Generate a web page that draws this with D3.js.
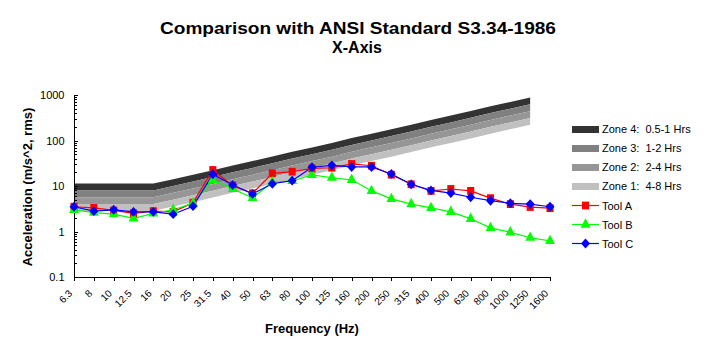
<!DOCTYPE html>
<html>
<head>
<meta charset="utf-8">
<script src="https://cdn.jsdelivr.net/npm/d3@7"></script>
<style>
  html, body { margin: 0; padding: 0; background: #fff; }
  svg { display: block; font-family: "Liberation Sans", Arial, sans-serif; }
  svg text { white-space: pre; }
</style>
</head>
<body>
<svg id="chart" width="704" height="358"></svg>
<script>
// ---------- data ----------
const categories = ["6.3","8","10","12.5","16","20","25","31.5","40","50","63","80","100","125","160","200","250","315","400","500","630","800","1000","1250","1600"];
const zoneCategories = categories.slice(0, 24); // zones drawn 6.3 .. 1250 Hz

// zone boundaries (m/s^2 rms)
const zoneBase  = [2.83,2.83,2.83,2.83,2.83,3.54,4.42,5.57,7.07,8.84,11.1,14.1,17.7,22.1,28.3,35.4,44.2,55.7,70.7,88.4,111,141,177,221];
const zone1Top  = [4,4,4,4,4,5,6.25,7.88,10,12.5,15.8,20,25,31.3,40,50,62.5,78.8,100,125,158,200,250,313];
const zone2Top  = [5.66,5.66,5.66,5.66,5.66,7.07,8.84,11.1,14.1,17.7,22.3,28.3,35.4,44.2,56.6,70.7,88.4,111,141,177,223,283,354,442];
const zone3Top  = [8,8,8,8,8,10,12.5,15.8,20,25,31.5,40,50,62.5,80,100,125,158,200,250,315,400,500,625];
const zone4Top  = [11.3,11.3,11.3,11.3,11.3,14.1,17.7,22.2,28.3,35.3,44.5,56.5,70.6,88.3,113,141,177,222,283,353,445,565,706,883];

const toolA = [3.5,3.3,2.9,2.5,2.8,2.7,4.3,22.5,10.2,6.9,19,20.6,24.3,25.2,30.5,27.9,17.7,10.9,7.8,8.6,7.8,5.4,4.0,3.45,3.25];
const toolB = [3.0,2.6,2.4,1.95,2.5,3.0,4.2,13.6,8.6,5.5,12.1,12.9,17.5,15.2,13.7,7.8,5.2,4.0,3.3,2.7,1.9,1.2,0.96,0.73,0.62];
const toolC = [3.5,2.8,3.0,2.7,2.7,2.4,3.6,18.1,10.5,6.7,11.2,13.1,25.8,28.5,26.2,26.2,18.4,10.9,8.0,7.0,5.65,4.75,4.17,4.0,3.5];

const yTickValues = [0.1, 1, 10, 100, 1000];
const yTickLabels = ["0.1", "1", "10", "100", "1000"];

const zoneNames  = ["Zone 4:  0.5-1 Hrs", "Zone 3:  1-2 Hrs", "Zone 2:  2-4 Hrs", "Zone 1:  4-8 Hrs"];
const zoneColors = ["#333333", "#808080", "#969696", "#C0C0C0"];
const toolNames  = ["Tool A", "Tool B", "Tool C"];
const toolColors = ["#FF0000", "#00FF00", "#0000FF"];

// ---------- layout ----------
const svg = d3.select("#chart");
const pLeft = 74, pRight = 550, pTop = 95, pBottom = 277;

const x = d3.scalePoint().domain(categories).range([pLeft, pRight]);
const y = d3.scaleLog().domain([0.1, 1000]).range([pBottom, pTop]);

// ---------- zones ----------
const bands = [
  {lo: zone3Top, hi: zone4Top, c: zoneColors[0]},
  {lo: zone2Top, hi: zone3Top, c: zoneColors[1]},
  {lo: zone1Top, hi: zone2Top, c: zoneColors[2]},
  {lo: zoneBase, hi: zone1Top, c: zoneColors[3]}
];
bands.forEach(b => {
  const area = d3.area()
    .x((d, i) => x(zoneCategories[i]))
    .y0((d, i) => y(b.lo[i]))
    .y1((d, i) => y(b.hi[i]));
  svg.append("path").attr("d", area(zoneCategories)).attr("fill", b.c).attr("stroke", "none");
});

// ---------- axes ----------
const axisG = svg.append("g");
axisG.append("line").attr("x1", pLeft + 0.5).attr("x2", pLeft + 0.5).attr("y1", pTop).attr("y2", pBottom).attr("stroke", "#000");
const minorVals = [];
for (let e = -1; e < 3; e++) for (let m = 2; m <= 9; m++) minorVals.push(m * Math.pow(10, e));
minorVals.forEach(v => {
  axisG.append("line").attr("x1", pLeft).attr("x2", pLeft + 3)
    .attr("y1", Math.round(y(v)) + 0.5).attr("y2", Math.round(y(v)) + 0.5).attr("stroke", "#000");
});
yTickValues.forEach((v, i) => {
  axisG.append("line").attr("x1", pLeft).attr("x2", pLeft + 4)
    .attr("y1", Math.round(y(v)) + 0.5).attr("y2", Math.round(y(v)) + 0.5).attr("stroke", "#000");
  axisG.append("text").attr("x", 64.5).attr("y", y(v) + 4)
    .attr("text-anchor", "end").attr("font-size", 11).text(yTickLabels[i]);
});
axisG.append("line").attr("x1", pLeft).attr("x2", pRight + 1).attr("y1", pBottom + 0.5).attr("y2", pBottom + 0.5).attr("stroke", "#000");
categories.forEach(c => {
  const xx = Math.round(x(c)) + 0.5;
  axisG.append("line").attr("x1", xx).attr("x2", xx).attr("y1", pBottom).attr("y2", pBottom + 4).attr("stroke", "#000");
  axisG.append("text")
    .attr("transform", `translate(${x(c) - 1},${pBottom + 17}) rotate(-45)`)
    .attr("text-anchor", "end").attr("font-size", 10).text(c);
});

// ---------- series ----------
const series = [toolA, toolB, toolC];
const symbols = [d3.symbolSquare, d3.symbolTriangle, d3.symbolSquare];
const symSizes = [50, 42, 40];
const symRot = [0, 0, 45];
const line = d3.line().x((d, i) => x(categories[i])).y(d => y(d));
series.forEach((s, k) => {
  svg.append("path").attr("d", line(s)).attr("fill", "none").attr("stroke", toolColors[k]).attr("stroke-width", 1.2);
});
series.forEach((s, k) => {
  svg.append("g").selectAll("path").data(s).join("path")
    .attr("transform", (d, i) => `translate(${x(categories[i])},${y(d)}) scale(1,1.1) rotate(${symRot[k]})`)
    .attr("d", d3.symbol().type(symbols[k]).size(symSizes[k]))
    .attr("fill", toolColors[k]);
});

// ---------- titles ----------
svg.append("text").attr("transform", "translate(358,34) scale(1.19,1)").attr("text-anchor", "middle")
  .attr("font-size", 16).attr("font-weight", "bold")
  .text("Comparison with ANSI Standard S3.34-1986");
svg.append("text").attr("x", 357).attr("y", 53).attr("text-anchor", "middle")
  .attr("font-size", 16).attr("font-weight", "bold").text("X-Axis");
svg.append("text").attr("x", 312).attr("y", 333).attr("text-anchor", "middle")
  .attr("font-size", 13).attr("font-weight", "bold").text("Frequency (Hz)");
svg.append("text").attr("transform", "translate(32,187) rotate(-90)").attr("text-anchor", "middle")
  .attr("font-size", 13).attr("font-weight", "bold").text("Acceleration (m/s^2, rms)");

// ---------- legend ----------
const lg = svg.append("g");
zoneNames.forEach((n, i) => {
  const cy = 129 + i * 19;
  lg.append("rect").attr("x", 572).attr("y", cy - 3).attr("width", 27).attr("height", 7).attr("fill", zoneColors[i]);
  lg.append("text").attr("x", 602).attr("y", cy + 4).attr("font-size", 11).text(n);
});
toolNames.forEach((n, k) => {
  const cy = 129 + (4 + k) * 19 + 0.5;
  lg.append("line").attr("x1", 572).attr("x2", 599).attr("y1", cy).attr("y2", cy).attr("stroke", toolColors[k]).attr("stroke-width", 1.2);
  lg.append("path").attr("transform", `translate(585.5,${cy}) scale(1,1.1) rotate(${symRot[k]})`)
    .attr("d", d3.symbol().type(symbols[k]).size(symSizes[k])).attr("fill", toolColors[k]);
  lg.append("text").attr("x", 602).attr("y", cy + 4).attr("font-size", 11).text(n);
});
</script>
</body>
</html>
